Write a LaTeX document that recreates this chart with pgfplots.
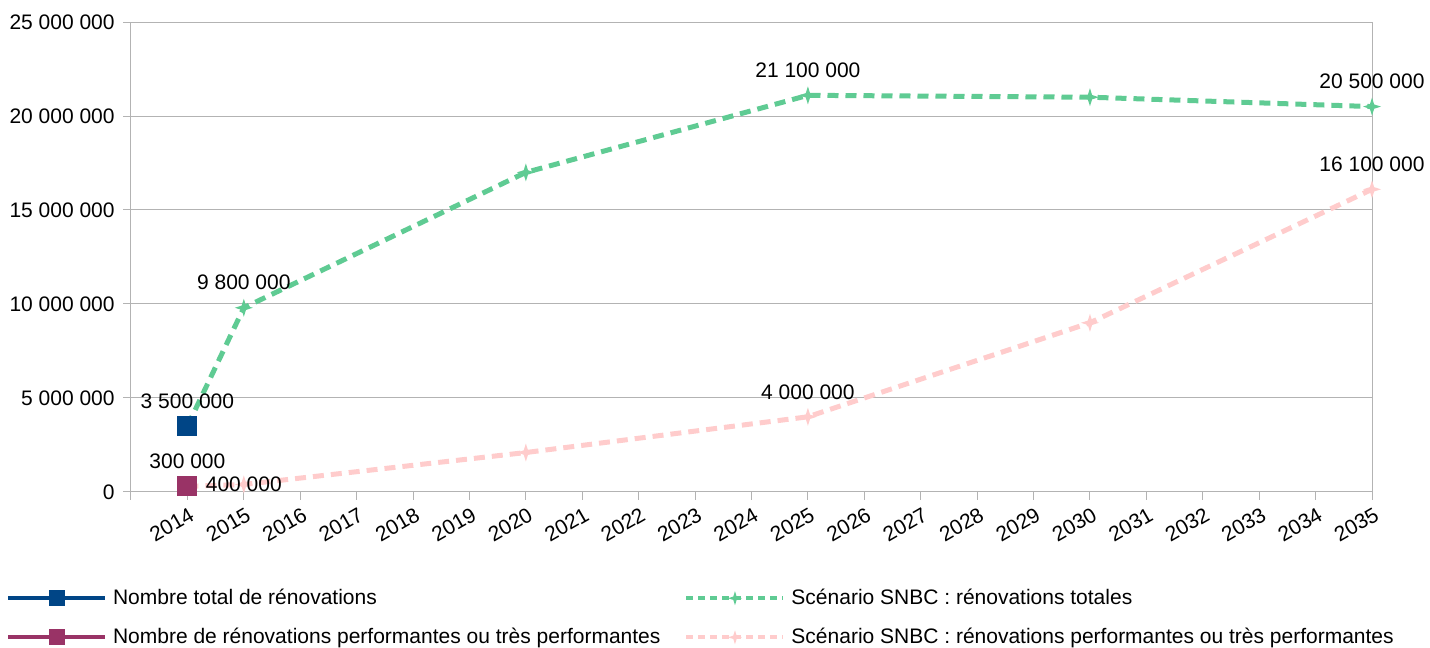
\documentclass[border=0pt]{standalone}
\usepackage{pgfplots}
\pgfplotsset{compat=1.18}
\usepackage{fontspec}
\setmainfont{Liberation Sans}
\definecolor{cBlue}{HTML}{004586}
\definecolor{cPurple}{HTML}{993366}
\definecolor{cGreen}{HTML}{5FCB93}
\definecolor{cPink}{HTML}{FFCCCC}
\definecolor{cGrid}{HTML}{B3B3B3}
\pgfdeclareplotmark{star4}{%
  \pgfpathmoveto{\pgfpoint{0pt}{\pgfplotmarksize}}%
  \pgfpathlineto{\pgfpoint{0.24\pgfplotmarksize}{0.24\pgfplotmarksize}}%
  \pgfpathlineto{\pgfpoint{\pgfplotmarksize}{0pt}}%
  \pgfpathlineto{\pgfpoint{0.24\pgfplotmarksize}{-0.24\pgfplotmarksize}}%
  \pgfpathlineto{\pgfpoint{0pt}{-\pgfplotmarksize}}%
  \pgfpathlineto{\pgfpoint{-0.24\pgfplotmarksize}{-0.24\pgfplotmarksize}}%
  \pgfpathlineto{\pgfpoint{-\pgfplotmarksize}{0pt}}%
  \pgfpathlineto{\pgfpoint{-0.24\pgfplotmarksize}{0.24\pgfplotmarksize}}%
  \pgfpathclose
  \pgfusepathqfill}
\begin{document}
\begin{tikzpicture}
\path[use as bounding box] (0,0) rectangle (715pt,324pt);
\begin{axis}[
  at={(65.5pt,78pt)}, anchor=south west,
  scale only axis, width=620.5pt, height=235pt,
  font=\fontsize{10.5}{12.6}\selectfont,
  xmin=2013, xmax=2035, ymin=0, ymax=25000000,
  xtick={2013,2014,2015,2016,2017,2018,2019,2020,2021,2022,2023,2024,2025,2026,2027,2028,2029,2030,2031,2032,2033,2034,2035},
  xticklabels={,2014,2015,2016,2017,2018,2019,2020,2021,2022,2023,2024,2025,2026,2027,2028,2029,2030,2031,2032,2033,2034,2035},
  ytick={0,5000000,10000000,15000000,20000000,25000000},
  yticklabels={0,5 000 000,10 000 000,15 000 000,20 000 000,25 000 000},
  scaled y ticks=false,
  axis line style={cGrid, line width=0.5pt},
  tick style={cGrid, line width=0.5pt},
  major tick length=4pt, tick align=outside, tick pos=left,
  ymajorgrids, grid style={cGrid, line width=0.5pt},
  yticklabel style={anchor=east, inner sep=0pt, xshift=-4pt},
  xticklabel style={inner sep=0pt, xshift=0.5pt, yshift=-3pt, rotate=30, anchor=north east},
  nodes near coords style={anchor=center, inner sep=0pt, text=black, yshift=12.5pt},
  legend columns=2,
  legend cell align=left,
  legend image code/.code={\draw[mark repeat=2,mark phase=2,#1] plot coordinates {(0pt,0pt) (24.25pt,0pt) (48.5pt,0pt)};},
  legend style={at={(-0.1007,-0.2064)}, anchor=north west, draw=none, fill=none,
    inner sep=0pt, outer sep=0pt, row sep=10.3pt,
    font=\fontsize{10.5}{12.6}\selectfont,
    nodes={inner sep=0pt},
    /tikz/every odd column/.append style={column sep=3pt},
    /tikz/every even column/.append style={column sep=12pt}},
]
% SNBC totals
\addplot[cGreen, line width=2.5pt, dash pattern=on 5.5pt off 3.5pt, mark=star4, mark size=4.5pt,
  mark options={solid}, forget plot, nodes near coords, point meta=explicit symbolic]
  coordinates {(2014,3500000) [] (2015,9800000) [9 800 000] (2020,17000000) [] (2025,21100000) [21 100 000] (2030,21000000) [] (2035,20500000) [20 500 000]};
% SNBC performantes
\addplot[cPink, line width=2.5pt, dash pattern=on 5.5pt off 3.5pt, mark=star4, mark size=4.5pt,
  mark options={solid}, forget plot, nodes near coords, point meta=explicit symbolic]
  coordinates {(2014,300000) [] (2015,400000) [] (2020,2100000) [] (2025,4000000) [4 000 000] (2030,9000000) [] (2035,16100000) [16 100 000]};
\addplot[draw=none, forget plot, nodes near coords, point meta=explicit symbolic,
  nodes near coords style={yshift=-12.5pt}]
  coordinates {(2015,400000) [400 000]};
% Nombre total
\addplot[cBlue, line width=2pt, mark=square*, mark size=4pt, forget plot,
  nodes near coords, point meta=explicit symbolic]
  coordinates {(2014,3500000) [3 500 000]};
% Nombre performantes
\addplot[cPurple, line width=2pt, mark=square*, mark size=4pt, forget plot,
  nodes near coords, point meta=explicit symbolic]
  coordinates {(2014,300000) [300 000]};
% legend
\addlegendimage{cBlue, line width=2pt, mark=square*, mark size=3pt}
\addlegendentry{Nombre total de rénovations}
\addlegendimage{cGreen, line width=2pt, dash pattern=on 3.5pt off 2.5pt, mark=star4, mark size=3.5pt, mark options={solid}}
\addlegendentry{Scénario SNBC : rénovations totales}
\addlegendimage{cPurple, line width=2pt, mark=square*, mark size=3pt}
\addlegendentry{Nombre de rénovations performantes ou très performantes}
\addlegendimage{cPink, line width=2pt, dash pattern=on 3.5pt off 2.5pt, mark=star4, mark size=3.5pt, mark options={solid}}
\addlegendentry{Scénario SNBC : rénovations performantes ou très performantes}
\end{axis}
\end{tikzpicture}
\end{document}
